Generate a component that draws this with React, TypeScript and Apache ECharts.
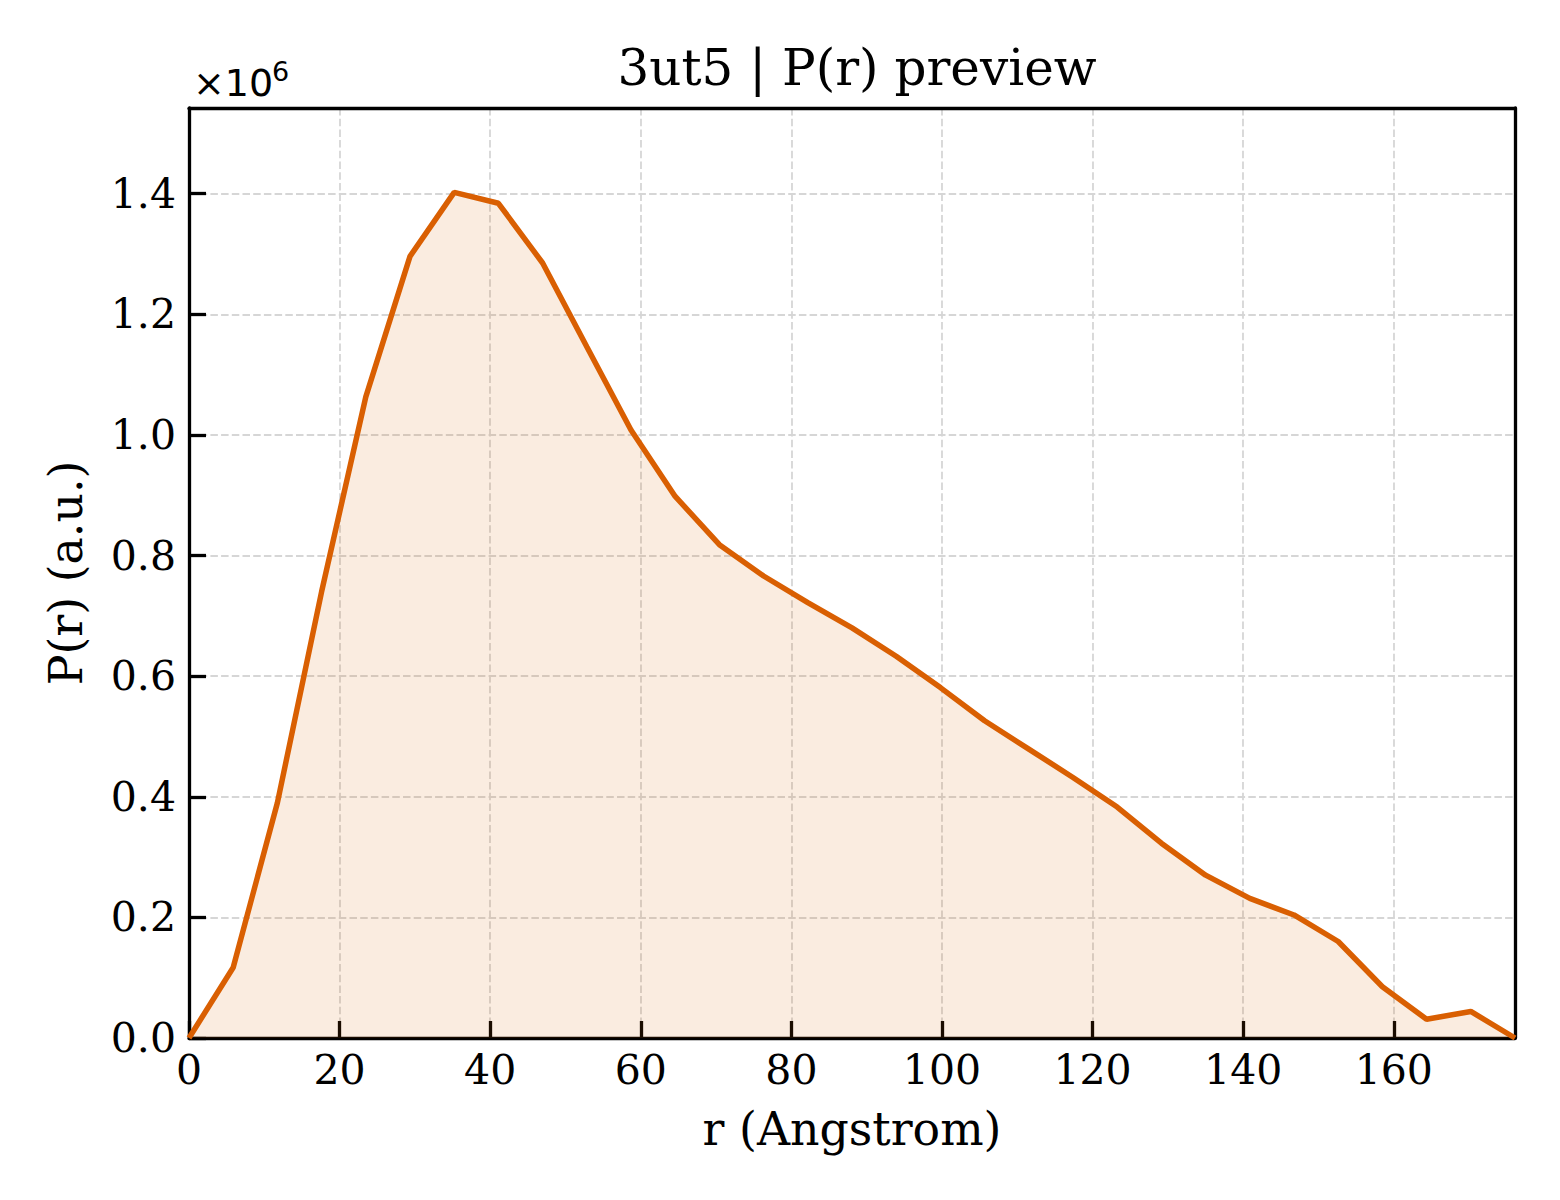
import { useEffect, useRef } from "react";
import * as echarts from "echarts";

const R_ANGSTROM = [
  0, 5.87, 11.74, 17.61, 23.48, 29.35, 35.22, 41.09, 46.96, 52.83, 58.7, 64.57,
  70.44, 76.31, 82.18, 88.05, 93.92, 99.79, 105.66, 111.53, 117.4, 123.27,
  129.14, 135.01, 140.88, 146.75, 152.62, 158.49, 164.36, 170.23, 176.1,
];

// P(r) in units of 1e6
const P_R = [
  0, 0.117, 0.39, 0.74, 1.063, 1.296, 1.402, 1.384, 1.285, 1.146, 1.008, 0.898,
  0.818, 0.766, 0.722, 0.68, 0.633, 0.581, 0.526, 0.479, 0.432, 0.383, 0.323,
  0.27, 0.2315, 0.204, 0.16, 0.085, 0.031, 0.044, 0,
];

const SCALE = 1e6;
const X_MAX = 176.1;
const Y_MAX = 1.542;

const FONT = "DejaVu Serif";
const LINE_COLOR = "#D95F02";

export default function App() {
  const chartRef = useRef<HTMLDivElement>(null);

  useEffect(() => {
    if (!chartRef.current) return;
    const chart = echarts.init(chartRef.current, null, { renderer: "svg" });

    const gridLine = {
      show: true,
      lineStyle: { color: "#d6d6d6", width: 1.8, type: [7.5, 3.2] },
    };
    const axisTick = {
      show: true,
      inside: true,
      length: 17,
      lineStyle: { color: "#000", width: 3.3 },
    };
    const axisLine = {
      show: true,
      onZero: false,
      lineStyle: { color: "#000", width: 3.3 },
    };
    // top / right spines only
    const spine = {
      type: "value",
      min: 0,
      axisLine,
      axisTick: { show: false },
      axisLabel: { show: false },
      splitLine: { show: false },
    };

    const option = {
      animation: false,
      backgroundColor: "#fff",
      textStyle: { fontFamily: FONT },
      title: {
        text: "3ut5 | P(r) preview",
        left: 852,
        textAlign: "center",
        top: 38,
        textStyle: {
          fontFamily: FONT,
          fontSize: 50,
          fontWeight: "normal",
          color: "#000",
        },
      },
      grid: {
        left: 189,
        right: 45,
        top: 108,
        bottom: 162,
      },
      xAxis: [
        {
          type: "value",
          min: 0,
          max: X_MAX,
          interval: 20,
          name: "r (Angstrom)",
          nameLocation: "middle",
          nameGap: 68,
          nameTextStyle: { fontFamily: FONT, fontSize: 45.8, color: "#000" },
          axisLine,
          axisTick,
          splitLine: gridLine,
          axisLabel: {
            fontFamily: FONT,
            fontSize: 41,
            color: "#000",
            margin: 11,
            showMaxLabel: false,
          },
        },
        { ...spine, position: "top", max: X_MAX },
      ],
      yAxis: [
        {
          type: "value",
          min: 0,
          max: Y_MAX * SCALE,
          interval: 0.2 * SCALE,
          name: "P(r) (a.u.)",
          nameLocation: "middle",
          nameGap: 100,
          nameTextStyle: { fontFamily: FONT, fontSize: 45.8, color: "#000" },
          axisLine,
          axisTick,
          splitLine: gridLine,
          axisLabel: {
            fontFamily: FONT,
            fontSize: 41,
            color: "#000",
            margin: 13,
            showMaxLabel: false,
            formatter: (v: number) => (v / SCALE).toFixed(1),
          },
        },
        { ...spine, position: "right", max: Y_MAX * SCALE },
      ],
      graphic: [
        {
          type: "text",
          left: 193,
          top: 64,
          style: {
            text: "×10",
            fontFamily: "DejaVu Sans",
            fontSize: 38,
            fill: "#000",
          },
        },
        {
          type: "text",
          left: 272,
          top: 58,
          style: {
            text: "6",
            fontFamily: "DejaVu Sans",
            fontSize: 27,
            fill: "#000",
          },
        },
      ],
      series: [
        {
          type: "line",
          xAxisIndex: 0,
          yAxisIndex: 0,
          data: R_ANGSTROM.map((r, i) => [r, P_R[i] * SCALE]),
          symbol: "none",
          lineStyle: { color: LINE_COLOR, width: 5.5 },
          areaStyle: { color: LINE_COLOR, opacity: 0.12, origin: "start" },
        },
      ],
    };

    chart.setOption(option);
    return () => chart.dispose();
  }, []);

  return (
    <div
      ref={chartRef}
      style={{
        position: "absolute",
        left: 0,
        top: 0,
        width: 1560,
        height: 1200,
      }}
    />
  );
}
